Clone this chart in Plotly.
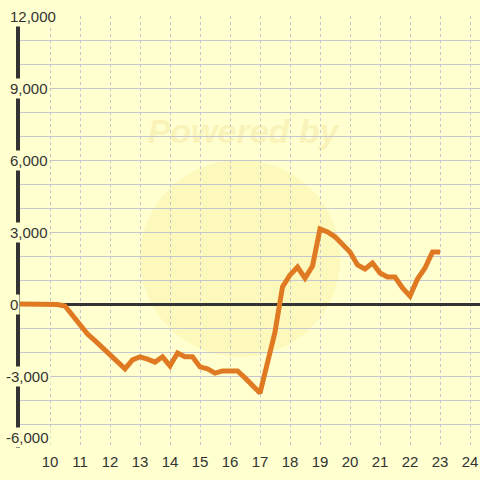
import plotly.graph_objects as go

# data
x_vals = [9, 10, 10.25, 10.5, 10.75, 11, 11.25, 11.5, 11.75, 12, 12.25, 12.5, 12.75, 13,
          13.25, 13.5, 13.75, 14, 14.25, 14.5, 14.75, 15, 15.25, 15.5, 15.75, 16, 16.25,
          16.5, 16.75, 17, 17.5, 17.75, 18, 18.25, 18.5, 18.75, 19, 19.25, 19.5, 19.75,
          20, 20.25, 20.5, 20.75, 21, 21.25, 21.5, 21.75, 22, 22.25, 22.5, 22.75, 23]
y_vals = [0, 0, -20, -80, -460, -830, -1250, -1530, -1820, -2100, -2420, -2700, -2330, -2200,
          -2300, -2420, -2200, -2580, -2040, -2200, -2200, -2620, -2700, -2880, -2790, -2790, -2790,
          -3080, -3380, -3710, -1170, 710, 1210, 1540, 1080, 1580, 3125, 3000, 2800, 2460,
          2170, 1625, 1460, 1710, 1290, 1125, 1125, 670, 330, 1040, 1500, 2170, 2170]

x_ticks = list(range(10, 25))
y_ticks = [-6000, -3000, 0, 3000, 6000, 9000, 12000]
y_tick_text = ["-6,000", "-3,000", "0", "3,000", "6,000", "9,000", "12,000"]

BG = "#ffffd0"
GRID = "#c6c6ce"
DARK = "#333333"
FONT = "Liberation Sans, Arial, sans-serif"

fig = go.Figure()
fig.add_trace(go.Scatter(
    x=x_vals, y=y_vals, mode="lines",
    line=dict(color="#e07a22", width=5),
    hoverinfo="skip", showlegend=False,
))

# faint watermark
fig.add_shape(type="circle", xref="paper", yref="paper",
              x0=0.261, x1=0.696, y0=0.211, y1=0.667,
              fillcolor="rgba(248,225,120,0.24)", line=dict(width=0), layer="below")
fig.add_shape(type="rect", xref="paper", yref="paper",
              x0=0.26, x1=0.71, y0=0.7, y1=0.78,
              fillcolor="rgba(0,0,0,0)", line=dict(width=0), layer="below",
              label=dict(text="<b><i>Powered by</i></b>",
                         font=dict(size=34, color="rgba(235,215,130,0.3)", family=FONT)))

# y tick labels (drawn over the axis line with a background, as in the reference)
y_min = min(y_ticks)
for v, t in zip(y_ticks, y_tick_text):
    fig.add_annotation(
        x=-0.026, xref="paper", y=v, yref="y", text=t, showarrow=False,
        xanchor="left", yanchor="bottom" if v == y_min else "middle",
        xshift=-4 if t.startswith("-") else 0,
        bgcolor=BG, borderpad=1, font=dict(family=FONT, size=15, color=DARK),
    )

fig.update_layout(
    width=480, height=480,
    margin=dict(l=20, r=0, t=16, b=32),
    paper_bgcolor=BG, plot_bgcolor=BG,
    font=dict(family=FONT, size=15, color=DARK),
    showlegend=False,
)
fig.update_xaxes(
    range=[9, 9 + 460 / 30], tickvals=x_ticks, ticktext=[str(v) for v in x_ticks],
    showgrid=True, gridcolor="#c4c4cc", gridwidth=1, griddash="3px,3px",
    zeroline=False, showline=False, ticks="", automargin=False,
    ticklabelstandoff=3, fixedrange=True,
)
fig.update_yaxes(
    range=[-6000, 12000], tickvals=y_ticks, showticklabels=False,
    showgrid=True, gridcolor=GRID, gridwidth=1,
    minor=dict(dtick=1000, tick0=0, showgrid=True, gridcolor=GRID, gridwidth=1),
    zeroline=True, zerolinecolor=DARK, zerolinewidth=3,
    showline=True, linecolor=DARK, linewidth=4,
    ticks="", automargin=False, layer="below traces", fixedrange=True,
)

fig.write_html("out.html", config={"displayModeBar": False},
               post_script="document.body.style.margin='0';")
